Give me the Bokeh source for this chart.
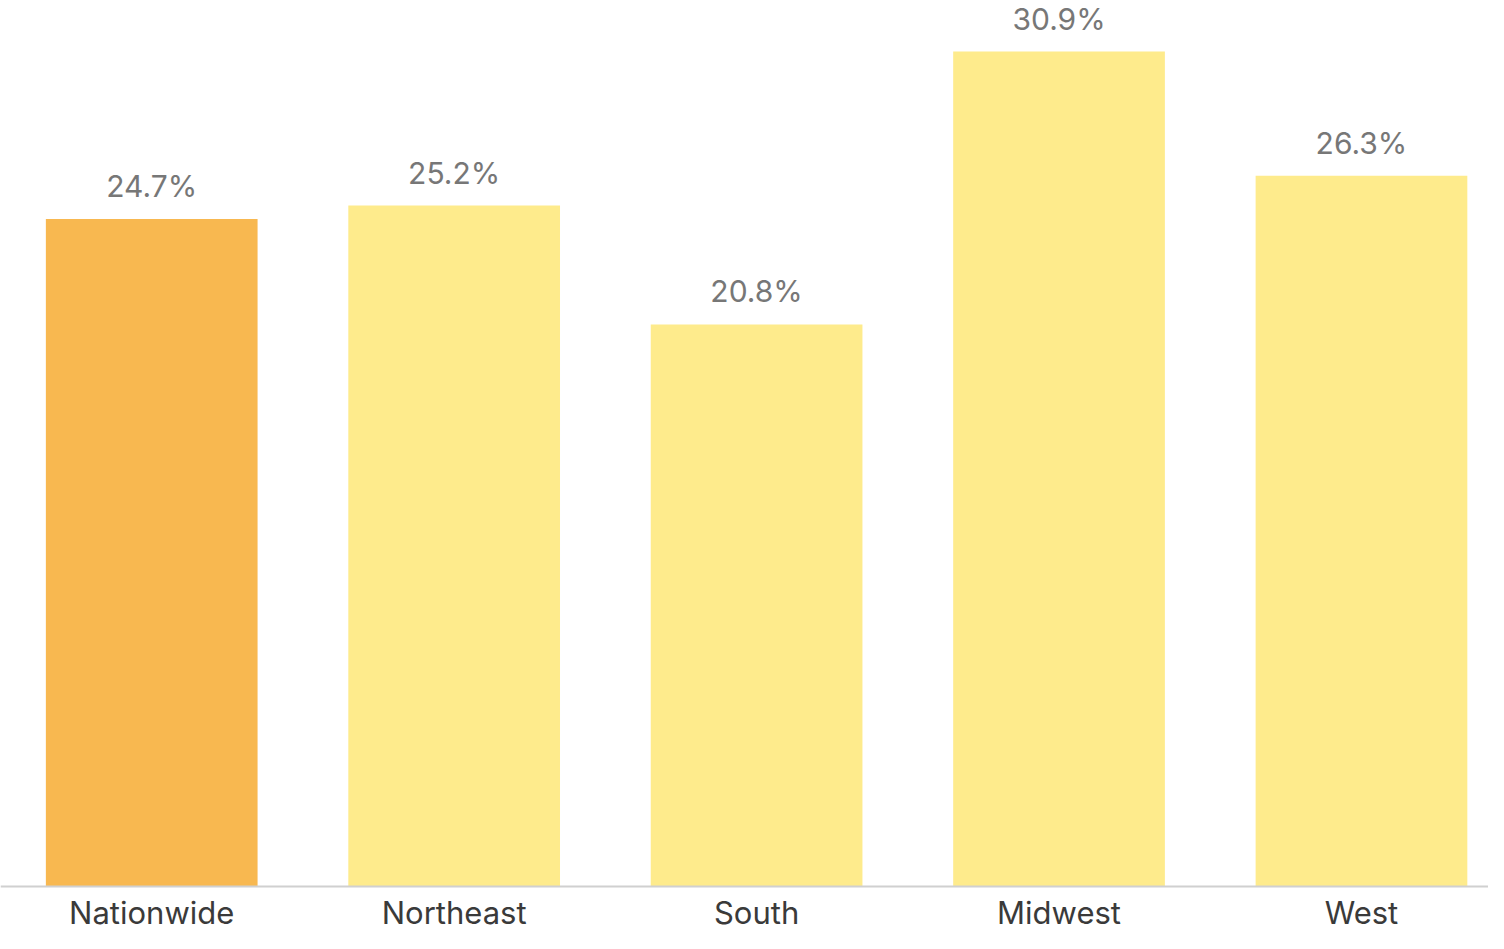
from bokeh.plotting import figure
from bokeh.models import ColumnDataSource, Range1d, Span
from bokeh.embed import file_html
from bokeh.resources import INLINE
from bokeh.core.properties import value

regions = ["Nationwide", "Northeast", "South", "Midwest", "West"]
shares = [24.7, 25.2, 20.8, 30.9, 26.3]
colors = ["#F8B850", "#FEEB8C", "#FEEB8C", "#FEEB8C", "#FEEB8C"]

xs = list(range(len(regions)))
labels = [f"{v}%" for v in shares]
zeros = [0] * len(regions)
src = ColumnDataSource(dict(x=xs, top=shares, color=colors, label=labels,
                            region=regions, base=zeros))

p = figure(width=1488, height=933, output_backend="svg", toolbar_location=None,
           x_range=Range1d(-0.5, 4.42), y_range=Range1d(-1.74, 32.79),
           min_border_left=0, min_border_right=0, min_border_top=0, min_border_bottom=0)
p.vbar(x="x", top="top", bottom=0, width=0.70, color="color", line_color=None, source=src)
p.text(x="x", y="top", text="label", source=src, text_align="center",
       text_baseline="alphabetic", y_offset=-33, text_font=value("Inter"),
       text_font_size="30px", text_color="#777777")
p.text(x="x", y="base", text="region", source=src, text_align="center",
       text_baseline="top", y_offset=8, text_font=value("Inter"),
       text_font_size="31px", text_color="#3a3a3a")
p.add_layout(Span(location=0, dimension="width", line_color="#D0D0D0", line_width=2))

p.xaxis.visible = False
p.yaxis.visible = False
p.grid.visible = False
p.outline_line_color = None

open("out.html", "w").write(file_html(p, INLINE))
